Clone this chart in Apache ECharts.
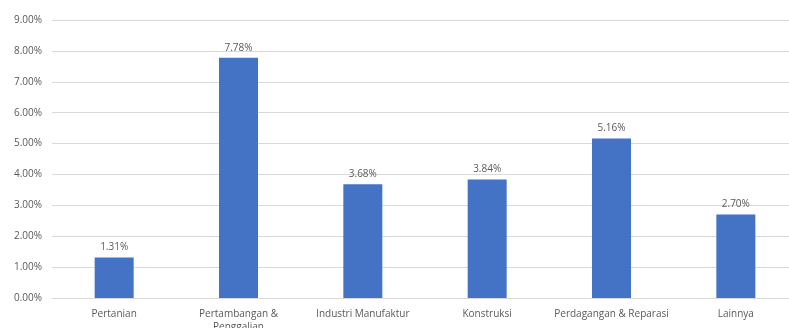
<!DOCTYPE html>
<html><head><meta charset="utf-8">
<script src="https://cdn.jsdelivr.net/npm/echarts@6/dist/echarts.min.js"></script>
<style>html,body{margin:0;padding:0;background:#fff;overflow:hidden}#c{width:789px;height:328px}</style>
</head><body><div id="c"></div>
<script>
const categories = ["Pertanian", "Pertambangan &\nPenggalian", "Industri Manufaktur", "Konstruksi", "Perdagangan & Reparasi", "Lainnya"];
const values = [1.31, 7.78, 3.68, 3.84, 5.16, 2.70];
const yTicks = [0, 1, 2, 3, 4, 5, 6, 7, 8, 9];

const chart = echarts.init(document.getElementById('c'), null, {renderer: 'canvas'});
const font = '"Open Sans", "Liberation Sans", sans-serif';
chart.setOption({
  animation: false,
  grid: {left: 52, right: -9, top: 20, bottom: 30, containLabel: false, outerBoundsMode: 'none'},
  xAxis: {
    type: 'category', data: categories,
    axisLine: {lineStyle: {color: '#d9d9d9', width: 1}},
    axisTick: {show: false},
    axisLabel: {color: '#595959', fontSize: 10, fontFamily: font, margin: 10, lineHeight: 13, interval: 0}
  },
  yAxis: {
    type: 'value', min: yTicks[0], max: yTicks[yTicks.length - 1], interval: 1,
    axisLine: {show: false}, axisTick: {show: false},
    splitLine: {lineStyle: {color: '#d9d9d9', width: 1}},
    axisLabel: {color: '#595959', fontSize: 10, fontFamily: font, margin: 10,
      formatter: v => v.toFixed(2) + '%'}
  },
  series: [{
    type: 'bar', data: values, barWidth: 39,
    itemStyle: {color: '#4472C4'},
    label: {show: true, position: 'top', distance: 5, color: '#595959', fontSize: 10, fontFamily: font,
      formatter: p => p.value.toFixed(2) + '%'}
  }]
});
</script></body></html>
